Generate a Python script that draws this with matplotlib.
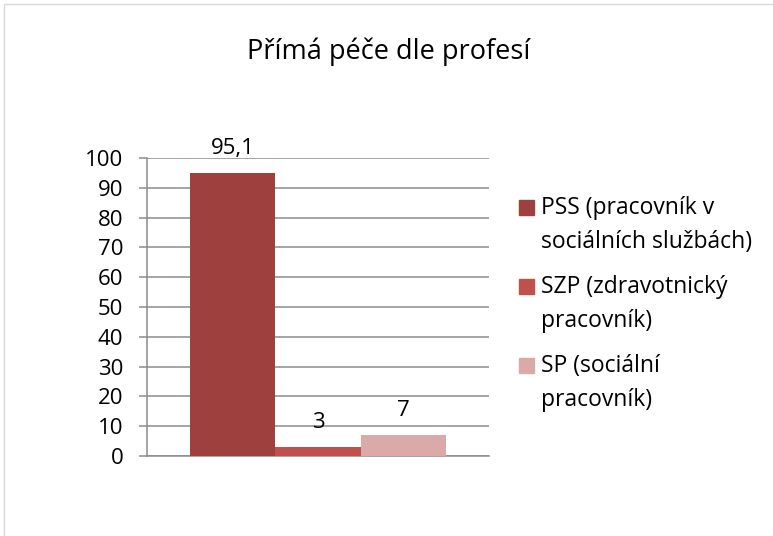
import matplotlib
matplotlib.use("Agg")
import matplotlib.pyplot as plt
from matplotlib.patches import Rectangle

# data
series = ["PSS (pracovník v\nsociálních službách)",
          "SZP (zdravotnický\npracovník)",
          "SP (sociální\npracovník)"]
values = [95.1, 3, 7]
colors = ["#9E403D", "#C0504D", "#DAA9A8"]
yticks = [0, 10, 20, 30, 40, 50, 60, 70, 80, 90, 100]

plt.rcParams['font.family'] = ['Open Sans', 'DejaVu Sans']

fig = plt.figure(figsize=(7.73, 5.36), dpi=100)
# light border round the chart box
fig.patches.append(Rectangle((4 / 773, -0.1), 1.2, 1 - 4 / 536 + 0.1,
                             transform=fig.transFigure, fill=False,
                             edgecolor="#D9D9D9", linewidth=1))

ax = fig.add_axes([147 / 773, 1 - 456 / 536, (489 - 147) / 773, 298 / 536])

w = 0.25
for i, (name, v, c) in enumerate(zip(series, values, colors)):
    x = (i - 1) * w
    ax.bar(x, v, width=w, color=c, zorder=3)
    ax.annotate(f"{v:g}".replace(".", ","), (x, v), xytext=(0, 13.5),
                textcoords="offset points", ha="center", va="baseline",
                fontsize=16, color="black")

ax.set_xlim(-0.5, 0.5)
ax.set_ylim(0, 100)
ax.set_yticks(yticks)
ax.set_xticks([])
ax.yaxis.grid(True, color="#8C8C8C", linewidth=1.1, zorder=0)
for s in ["top", "right"]:
    ax.spines[s].set_visible(False)
ax.spines["left"].set_color("#8C8C8C")
ax.spines["bottom"].set_color("#8C8C8C")
ax.spines["left"].set_linewidth(1.1)
ax.spines["bottom"].set_linewidth(1.1)
ax.tick_params(axis="y", length=6, width=1.1, color="#8C8C8C", pad=11,
               labelsize=16)

fig.text(389 / 773, 1 - 59 / 536, "Přímá péče dle profesí", ha="center",
         va="baseline", fontsize=19.5)

# legend on the right, square next to the first line of each label
line_h = 33
for i, (name, c) in enumerate(zip(series, colors)):
    base = 215 + i * 79
    last = base + line_h * name.count("\n")
    fig.patches.append(Rectangle((519 / 773, 1 - base / 536), 15 / 773, 15 / 536,
                                 transform=fig.transFigure, color=c))
    fig.text(541 / 773, 1 - last / 536, name, ha="left", va="baseline",
             fontsize=16.5, linespacing=1.55)

fig.savefig("out.png", dpi=100)
